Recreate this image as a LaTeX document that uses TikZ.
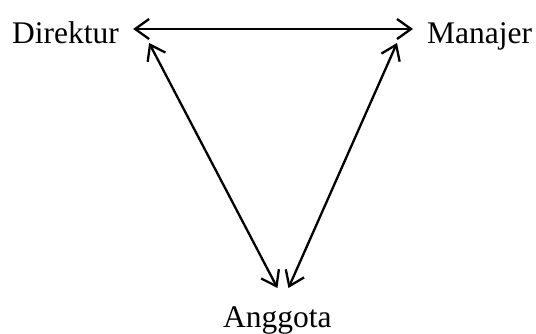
\documentclass[tikz,border=0pt]{standalone}
\usepackage{fontspec}
\setmainfont{Liberation Serif}
\usetikzlibrary{arrows.meta,calc}
\begin{document}
\begin{tikzpicture}[x=1pt,y=1pt,
  lbl/.style={inner sep=0pt,font=\fontsize{31.5}{37}\selectfont,anchor=base west},
  link/.style={line width=2.3pt,{Straight Barb[length=14pt,width=20pt]}-{Straight Barb[length=14pt,width=20pt]}}]
\useasboundingbox (0,0) rectangle (536,333);
\node[lbl] (D) at (12,290) {Direktur};
\node[lbl] (M) at (427,290) {Manajer};
\node[lbl] (A) at (223,6) {Anggota};
\draw[link] ($(D.base east)+(14,14)$) -- ($(M.base west)+(-14,14)$);
\draw[link] ($(D.base east)+(30,0)$) -- ($(A.base)+(0,39)$);
\draw[link] ($(M.base west)+(-30,0)$) -- ($(A.base)+(11,39)$);
\end{tikzpicture}
\end{document}
